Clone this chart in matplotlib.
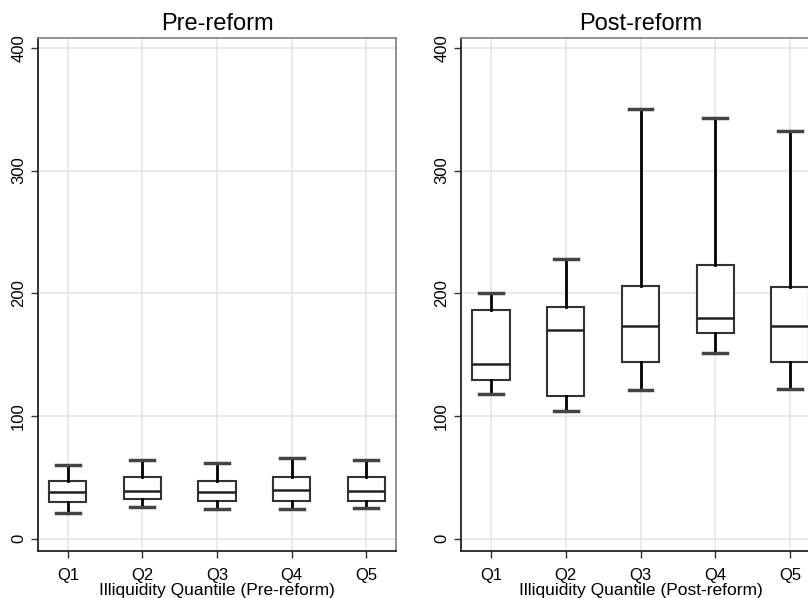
import matplotlib
matplotlib.use("Agg")
import matplotlib.pyplot as plt

plt.rcParams['font.family'] = ['Liberation Sans', 'DejaVu Sans']

labels = ['Q1', 'Q2', 'Q3', 'Q4', 'Q5']

# pre-reform box stats
pre_lo = [21, 26, 24, 24, 25]
pre_q1 = [30, 32, 31, 31, 31]
pre_med = [38, 39, 38, 40, 39]
pre_q3 = [47, 50, 47, 50, 50]
pre_hi = [60, 64, 62, 66, 64]

# post-reform box stats
post_lo = [118, 104, 121, 151, 122]
post_q1 = [129, 116, 144, 168, 144]
post_med = [142, 170, 173, 180, 173]
post_q3 = [186, 189, 206, 223, 205]
post_hi = [200, 228, 350, 343, 332]


def make_stats(lo, q1, med, q3, hi):
    out = []
    for i in range(len(lo)):
        out.append(dict(whislo=lo[i], q1=q1[i], med=med[i], q3=q3[i],
                        whishi=hi[i], fliers=[], label=labels[i]))
    return out


def draw(ax, stats, title, xlabel):
    ax.bxp(stats, positions=range(1, 6), widths=0.5, showfliers=False,
           patch_artist=True,
           boxprops=dict(facecolor='white', edgecolor='#333333', linewidth=1.5),
           medianprops=dict(color='#222222', linewidth=1.8),
           whiskerprops=dict(color='black', linewidth=2),
           capprops=dict(color='#444444', linewidth=2.5),
           capwidths=0.32)
    ax.set_xlim(0.6, 5.4)
    ax.set_ylim(-10, 408)
    ax.set_yticks([0, 100, 200, 300, 400])
    ax.set_xticks(range(1, 6))
    ax.set_xticklabels(labels)
    ax.grid(True, color='#e6e6e6', linewidth=1.2)
    ax.set_axisbelow(True)
    for lab in ax.get_yticklabels():
        lab.set_rotation(90)
        lab.set_va('center')
    ax.tick_params(axis='both', labelsize=12, length=5, width=1, color='#333333')
    ax.tick_params(axis='x', pad=7)
    ax.set_title(title, fontsize=17, pad=6)
    ax.set_xlabel(xlabel, fontsize=12.5, labelpad=0)
    ax.spines['left'].set_color('#222222')
    ax.spines['bottom'].set_color('#222222')
    ax.spines['top'].set_color('#888888')
    ax.spines['right'].set_color('#888888')
    for s in ax.spines.values():
        s.set_linewidth(1.3)


fig = plt.figure(figsize=(8.08, 5.98), dpi=100)
ax1 = fig.add_axes([38 / 808, 47 / 598, 358 / 808, 513 / 598])
ax2 = fig.add_axes([461 / 808, 47 / 598, 359 / 808, 513 / 598])

draw(ax1, make_stats(pre_lo, pre_q1, pre_med, pre_q3, pre_hi),
     'Pre-reform', 'Illiquidity Quantile (Pre-reform)')
draw(ax2, make_stats(post_lo, post_q1, post_med, post_q3, post_hi),
     'Post-reform', 'Illiquidity Quantile (Post-reform)')

fig.savefig('out.png', dpi=100)
